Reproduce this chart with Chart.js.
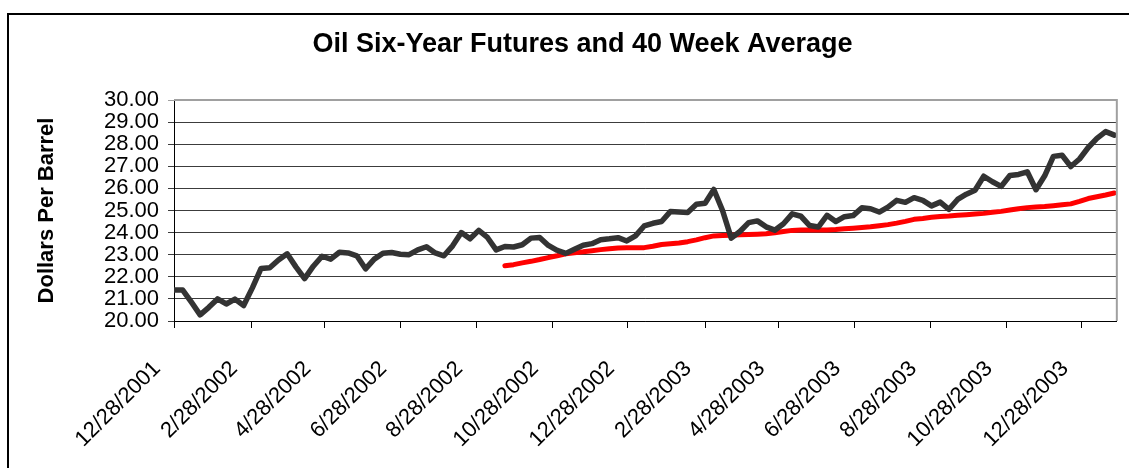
<!DOCTYPE html>
<html>
<head>
<meta charset="utf-8">
<title>Oil Six-Year Futures and 40 Week Average</title>
<script src="https://cdn.jsdelivr.net/npm/chart.js@4.4.0/dist/chart.umd.min.js"></script>
<style>
  html, body { margin: 0; padding: 0; background: #fff; }
  #wrap { width: 1129px; height: 468px; }
</style>
</head>
<body>
<div id="wrap"><canvas id="oilChart" width="1129" height="468"></canvas></div>
<script>
// weekly closes, first week = 12/28/2001
const firstWeek = '2001-12-28';
const tickLabels = ['12/28/2001', '2/28/2002', '4/28/2002', '6/28/2002', '8/28/2002', '10/28/2002',
    '12/28/2002', '2/28/2003', '4/28/2003', '6/28/2003', '8/28/2003', '10/28/2003', '12/28/2003'];

const futures = [
    21.40, 21.40, 20.85, 20.28, 20.62, 21.00, 20.77, 20.99, 20.70, 21.50,
    22.38, 22.41, 22.76, 23.04, 22.45, 21.92, 22.48, 22.93, 22.80, 23.11,
    23.08, 22.95, 22.36, 22.80, 23.07, 23.10, 23.02, 23.00, 23.22, 23.36,
    23.08, 22.95, 23.40, 24.00, 23.72, 24.10, 23.78, 23.22, 23.37, 23.35,
    23.45, 23.75, 23.78, 23.42, 23.20, 23.06, 23.25, 23.43, 23.50, 23.68,
    23.72, 23.77, 23.62, 23.85, 24.30, 24.42, 24.50, 24.95, 24.93, 24.91,
    25.28, 25.33, 25.95, 25.00, 23.75, 24.05, 24.45, 24.53, 24.26, 24.11,
    24.40, 24.85, 24.74, 24.32, 24.25, 24.78, 24.50, 24.72, 24.77, 25.12,
    25.08, 24.93, 25.15, 25.46, 25.37, 25.58, 25.46, 25.21, 25.38, 25.05,
    25.50, 25.74, 25.92, 26.55, 26.30, 26.09, 26.58, 26.63, 26.75, 25.94,
    26.57, 27.45, 27.50, 26.99, 27.33, 27.85, 28.26, 28.57, 28.41
];

// 40 week average, starts at week 38
const averageStartWeek = 38;
const average = [
    22.50, 22.55, 22.63, 22.70, 22.78, 22.87, 22.95, 23.04, 23.09, 23.13,
    23.18, 23.23, 23.27, 23.30, 23.31, 23.31, 23.32, 23.38, 23.46, 23.50,
    23.53, 23.59, 23.67, 23.77, 23.85, 23.87, 23.88, 23.90, 23.91, 23.93,
    23.95, 23.99, 24.05, 24.10, 24.12, 24.12, 24.12, 24.12, 24.14, 24.17,
    24.20, 24.23, 24.26, 24.31, 24.36, 24.43, 24.51, 24.60, 24.64, 24.69,
    24.73, 24.75, 24.78, 24.81, 24.84, 24.87, 24.92, 24.96, 25.02, 25.08,
    25.13, 25.16, 25.18, 25.22, 25.26, 25.30, 25.41, 25.54, 25.62, 25.70,
    25.79
];

const DAY = 86400000;
const t0 = Date.parse(firstWeek);

function daysFrom(label) {
    const p = label.split('/');
    return Math.round((Date.UTC(+p[2], +p[0] - 1, +p[1]) - t0) / DAY);
}
const tickDays = tickLabels.map(daysFrom);

Chart.defaults.font.family = "'Liberation Sans', Arial, sans-serif";
Chart.defaults.color = '#000';

// white page, outer frame and plot border
const framePlugin = {
    id: 'frame',
    beforeDraw(chart) {
        const ctx = chart.ctx;
        ctx.save();
        ctx.fillStyle = '#fff';
        ctx.fillRect(0, 0, chart.width, chart.height);
        ctx.restore();
    },
    afterDraw(chart) {
        const ctx = chart.ctx;
        const a = chart.chartArea;
        ctx.save();
        ctx.strokeStyle = '#000';
        ctx.lineWidth = 2;
        ctx.beginPath();
        ctx.moveTo(8, chart.height);
        ctx.lineTo(8, 14);
        ctx.lineTo(chart.width, 14);
        ctx.stroke();
        ctx.strokeStyle = '#a0a0a0';
        ctx.beginPath();
        ctx.moveTo(a.left, a.top);
        ctx.lineTo(a.right, a.top);
        ctx.lineTo(a.right, a.bottom);
        ctx.stroke();
        ctx.restore();
    }
};

const ctx = document.getElementById('oilChart').getContext('2d');
const oilChart = new Chart(ctx, {
    type: 'line',
    data: {
        datasets: [{
            label: 'Six-Year Futures',
            data: futures.map((v, i) => ({ x: i * 7, y: v })),
            borderColor: '#333333',
            borderWidth: 5.5,
            pointRadius: 0,
            tension: 0,
            borderJoinStyle: 'round',
            borderCapStyle: 'round'
        }, {
            label: '40 Week Average',
            data: average.map((v, k) => ({ x: (k + averageStartWeek) * 7, y: v })),
            borderColor: '#ff0000',
            borderWidth: 5,
            pointRadius: 0,
            tension: 0,
            borderJoinStyle: 'round',
            borderCapStyle: 'round'
        }]
    },
    options: {
        responsive: false,
        animation: false,
        devicePixelRatio: 1,
        layout: { padding: { left: 45, right: 9, top: 0, bottom: 0 } },
        plugins: {
            legend: { display: false },
            tooltip: { enabled: false },
            title: {
                display: true,
                text: 'Oil Six-Year Futures and 40 Week Average',
                color: '#000',
                font: { size: 27, weight: 'bold' },
                padding: { top: 28, bottom: 39.6 }
            }
        },
        scales: {
            x: {
                type: 'linear',
                min: 0,
                max: 758,
                afterBuildTicks: (scale) => { scale.ticks = tickDays.map(v => ({ value: v })); },
                afterFit: (scale) => { scale.height = 147; },
                grid: { drawOnChartArea: false, drawTicks: true, tickLength: 7, color: '#000' },
                border: { color: '#000', width: 1 },
                ticks: {
                    autoSkip: false,
                    maxRotation: 45,
                    minRotation: 45,
                    padding: 28,
                    labelOffset: -17,
                    font: { size: 22 },
                    color: '#000',
                    callback: (v) => tickLabels[tickDays.indexOf(v)]
                }
            },
            y: {
                min: 20,
                max: 30,
                afterFit: (scale) => { scale.width = 129; },
                grid: {
                    color: (c) => c.tick && c.tick.value === 30 ? '#a0a0a0' : '#3c3c3c',
                    lineWidth: 1,
                    tickLength: 6
                },
                border: { color: '#000', width: 1 },
                ticks: {
                    autoSkip: false,
                    stepSize: 1,
                    padding: 9,
                    font: { size: 22 },
                    color: '#000',
                    callback: (v) => v.toFixed(2)
                },
                title: {
                    display: true,
                    text: 'Dollars Per Barrel',
                    color: '#000',
                    font: { size: 22, weight: 'bold' },
                    padding: { top: -11, bottom: 0 }
                }
            }
        }
    },
    plugins: [framePlugin]
});
</script>
</body>
</html>
